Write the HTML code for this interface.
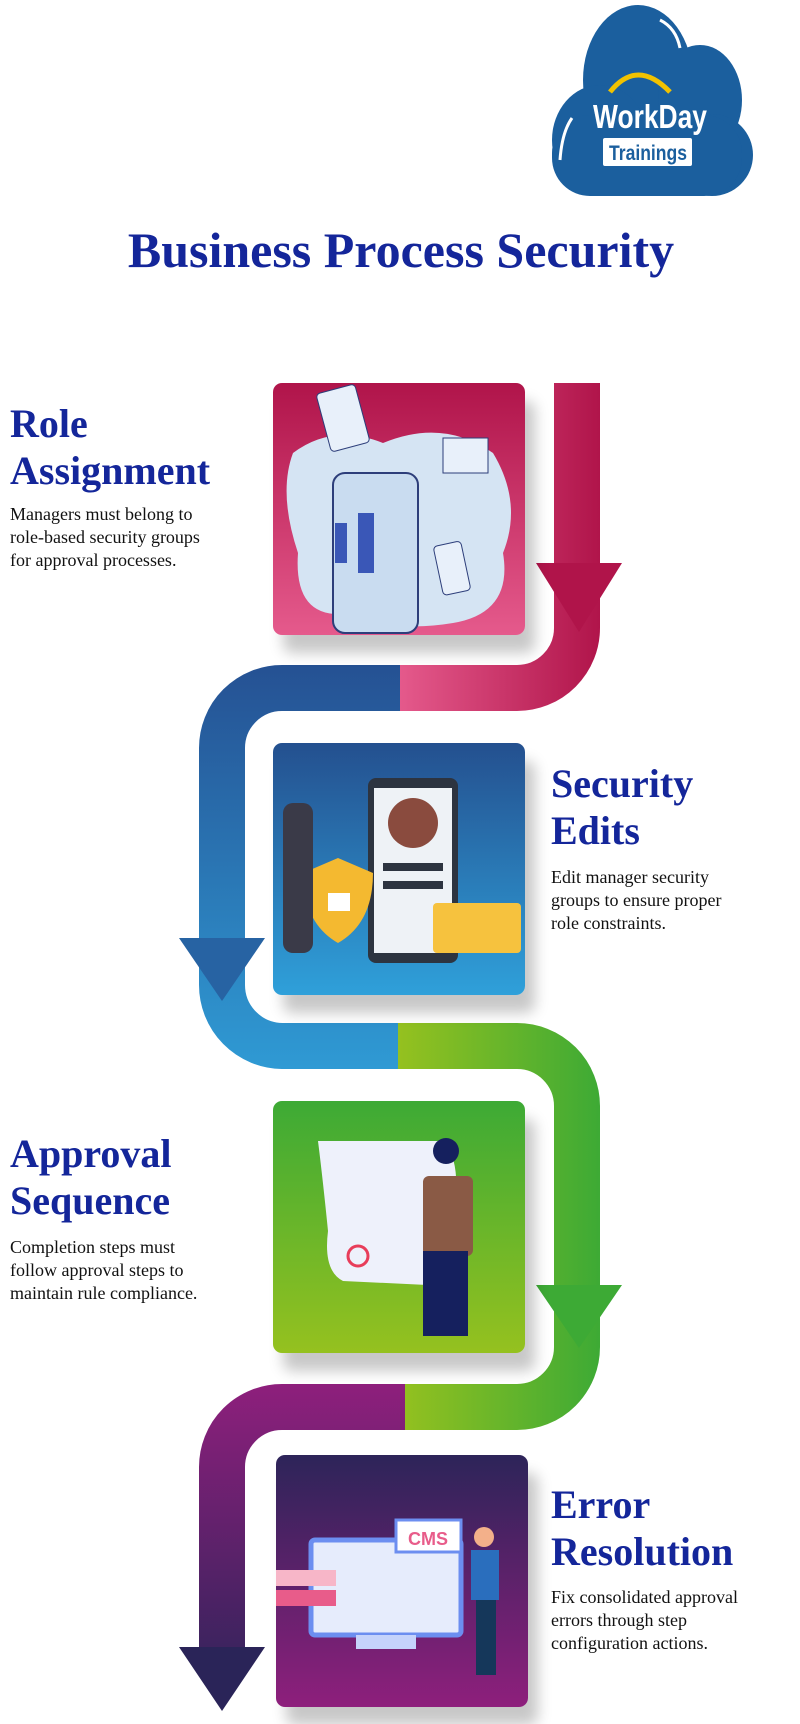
<!DOCTYPE html>
<html><head><meta charset="utf-8"><style>
body{margin:0;width:800px;height:1724px;background:#fff;position:relative;overflow:hidden;font-family:"Liberation Serif",serif}
.t{position:absolute;color:#14269a;font-weight:bold;font-size:40px;line-height:47px}
.b{position:absolute;color:#111;font-size:18px;line-height:23px}
.card{position:absolute;width:252px;height:252px;border-radius:9px;box-shadow:10px 18px 14px rgba(0,0,0,0.22)}
</style></head><body>
<svg width="800" height="1724" style="position:absolute;left:0;top:0">
<defs>
<linearGradient id="red" gradientUnits="userSpaceOnUse" x1="398" y1="0" x2="601" y2="0"><stop offset="0" stop-color="#e55a8c"/><stop offset="1" stop-color="#b0144a"/></linearGradient>
<linearGradient id="blue" gradientUnits="userSpaceOnUse" x1="0" y1="665" x2="0" y2="1069"><stop offset="0" stop-color="#255193"/><stop offset="1" stop-color="#2f9ad4"/></linearGradient>
<linearGradient id="green" gradientUnits="userSpaceOnUse" x1="398" y1="0" x2="601" y2="0"><stop offset="0" stop-color="#95c11f"/><stop offset="1" stop-color="#3daa35"/></linearGradient>
<linearGradient id="purple" gradientUnits="userSpaceOnUse" x1="0" y1="1384" x2="0" y2="1711"><stop offset="0" stop-color="#8e1f7c"/><stop offset="1" stop-color="#2a2458"/></linearGradient>
</defs>
<!-- logo -->
<g fill="#1b5f9e">
<ellipse cx="638" cy="80" rx="55" ry="75"/>
<ellipse cx="700" cy="100" rx="42" ry="55"/>
<ellipse cx="600" cy="140" rx="48" ry="55"/>
<ellipse cx="712" cy="155" rx="41" ry="41"/>
<rect x="552" y="115" width="190" height="81" rx="38"/>
</g>
<path d="M610 92 Q637 58 670 92" stroke="#f2c200" stroke-width="5" fill="none"/>
<path d="M660 20 Q676 28 680 48" stroke="#fff" stroke-width="3" fill="none"/>
<path d="M572 118 Q562 132 560 160" stroke="#fff" stroke-width="3" fill="none"/>
<text x="650" y="128" text-anchor="middle" font-family="Liberation Sans,sans-serif" font-size="33" font-weight="bold" fill="#fff" textLength="114" lengthAdjust="spacingAndGlyphs">WorkDay</text>
<rect x="603" y="138" width="89" height="28" rx="2" fill="#fff"/>
<text x="648" y="160" text-anchor="middle" font-family="Liberation Sans,sans-serif" font-size="21" font-weight="bold" fill="#1b5f9e" textLength="78" lengthAdjust="spacingAndGlyphs">Trainings</text>
<!-- arrows -->
<path d="M577 383 V628 A60 60 0 0 1 517 688 H396" stroke="url(#red)" stroke-width="46" fill="none"/>
<path d="M400 688 H282 A60 60 0 0 0 222 748 V985 A61 61 0 0 0 282 1046 H400" stroke="url(#blue)" stroke-width="46" fill="none"/>
<path d="M398 1046 H517 A60 60 0 0 1 577 1106 V1347 A60 60 0 0 1 517 1407 H401" stroke="url(#green)" stroke-width="46" fill="none"/>
<path d="M405 1407 H282 A60 60 0 0 0 222 1467 V1660" stroke="url(#purple)" stroke-width="46" fill="none"/>
<polygon points="536,563 622,563 579,632" fill="#b0144a"/>
<polygon points="179,938 265,938 222,1001" fill="#2763a3"/>
<polygon points="536,1285 622,1285 579,1348" fill="#3daa35"/>
<polygon points="179,1647 265,1647 222,1711" fill="#2a2458"/>
<text x="401" y="267" text-anchor="middle" font-family="Liberation Serif,serif" font-size="50" font-weight="bold" fill="#14269a">Business Process Security</text>
</svg>

<div class="card" style="left:273px;top:383px;background:linear-gradient(#b0144a,#e55a8c)">
<svg width="252" height="252"><path d="M20 70 Q60 40 110 60 Q170 35 220 70 Q250 120 230 170 Q240 230 180 240 Q120 250 80 230 Q20 240 25 170 Q5 110 20 70Z" fill="#d5e4f3"/>
<rect x="60" y="90" width="85" height="160" rx="12" fill="#c9dcf0" stroke="#2d3e7a" stroke-width="2"/>
<rect x="85" y="130" width="16" height="60" fill="#3a57b7"/><rect x="62" y="140" width="12" height="40" fill="#3a57b7"/>
<rect x="50" y="5" width="40" height="60" rx="4" fill="#e8f0fa" stroke="#2d3e7a" transform="rotate(-15 70 35)"/>
<rect x="170" y="55" width="45" height="35" fill="#e8f0fa" stroke="#2d3e7a"/>
<rect x="165" y="160" width="28" height="50" rx="4" fill="#e8f0fa" stroke="#2d3e7a" transform="rotate(-12 180 185)"/></svg></div>

<div class="card" style="left:273px;top:743px;background:linear-gradient(#24508f,#2fa0da)">
<svg width="252" height="252"><rect x="95" y="35" width="90" height="185" rx="8" fill="#2d3440"/><rect x="101" y="45" width="78" height="165" fill="#eef2f6"/>
<circle cx="140" cy="80" r="25" fill="#8a4b3e"/><rect x="110" y="120" width="60" height="8" fill="#2d3440"/><rect x="110" y="138" width="60" height="8" fill="#2d3440"/>
<path d="M30 130 L65 115 L100 130 Q100 180 65 200 Q30 180 30 130Z" fill="#f4b930"/><rect x="55" y="150" width="22" height="18" fill="#fff"/>
<rect x="160" y="160" width="88" height="50" rx="4" fill="#f6c23e"/><rect x="10" y="60" width="30" height="150" rx="10" fill="#3a3a48"/></svg></div>

<div class="card" style="left:273px;top:1101px;background:linear-gradient(#3daa35,#95c11f)">
<svg width="252" height="252"><path d="M45 40 L170 40 Q190 60 180 120 Q185 170 175 185 L70 180 Q50 170 55 130 Q50 80 45 40Z" fill="#eef1fb"/>
<circle cx="85" cy="155" r="10" fill="none" stroke="#e83d5a" stroke-width="3"/>
<rect x="150" y="75" width="50" height="80" rx="6" fill="#8a5a45"/><rect x="150" y="150" width="45" height="85" fill="#15205e"/><circle cx="173" cy="50" r="13" fill="#15205e"/></svg></div>

<div class="card" style="left:276px;top:1455px;background:linear-gradient(#2d2459,#8e1f7c)">
<svg width="252" height="252"><rect x="35" y="85" width="150" height="95" rx="4" fill="#e6ecfc" stroke="#6c8ef0" stroke-width="5"/><rect x="80" y="180" width="60" height="14" fill="#c5d3fb"/>
<rect x="120" y="65" width="65" height="32" fill="#fff" stroke="#6c8ef0" stroke-width="3"/><text x="152" y="90" text-anchor="middle" font-family="Liberation Sans,sans-serif" font-weight="bold" font-size="18" fill="#e85c8a">CMS</text>
<rect x="0" y="115" width="60" height="16" fill="#f7b6c8"/><rect x="0" y="135" width="60" height="16" fill="#e85c8a"/>
<rect x="195" y="95" width="28" height="50" fill="#2a6ebd"/><rect x="200" y="145" width="20" height="75" fill="#15375a"/><circle cx="208" cy="82" r="10" fill="#f3b08a"/></svg></div>

<div class="t" style="left:10px;top:400px">Role<br>Assignment</div>
<div class="b" style="left:10px;top:503px">Managers must belong to<br>role-based security groups<br>for approval processes.</div>
<div class="t" style="left:551px;top:760px">Security<br>Edits</div>
<div class="b" style="left:551px;top:866px">Edit manager security<br>groups to ensure proper<br>role constraints.</div>
<div class="t" style="left:10px;top:1130px">Approval<br>Sequence</div>
<div class="b" style="left:10px;top:1236px">Completion steps must<br>follow approval steps to<br>maintain rule compliance.</div>
<div class="t" style="left:551px;top:1481px">Error<br>Resolution</div>
<div class="b" style="left:551px;top:1586px">Fix consolidated approval<br>errors through step<br>configuration actions.</div>
</body></html>
